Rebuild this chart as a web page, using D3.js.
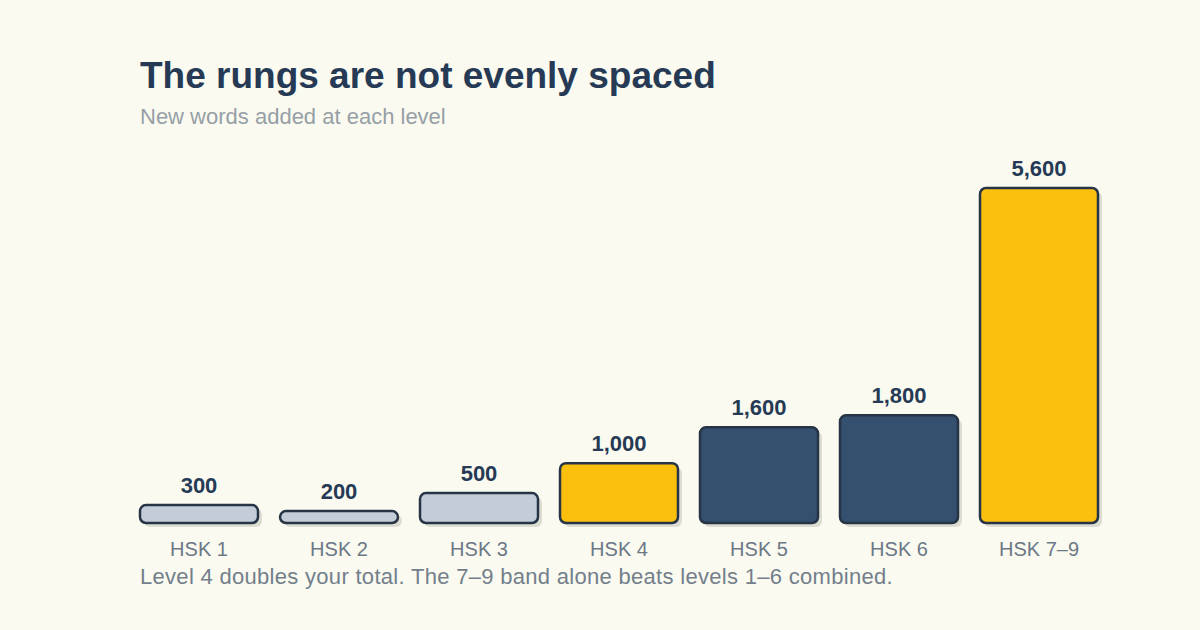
<!DOCTYPE html>
<html>
<head>
<meta charset="utf-8">
<script src="https://cdn.jsdelivr.net/npm/d3@7"></script>
<style>
  html, body { margin: 0; padding: 0; background: #fafaf0; }
  svg { display: block; font-family: "Liberation Sans", Arial, Helvetica, sans-serif; }
</style>
</head>
<body>
<div class="chart"></div>
<script>
// data
const levels = ['HSK 1', 'HSK 2', 'HSK 3', 'HSK 4', 'HSK 5', 'HSK 6', 'HSK 7–9'];
const newWords = [300, 200, 500, 1000, 1600, 1800, 5600];
const tier = ['low', 'low', 'low', 'key', 'high', 'high', 'key'];

const width = 1200, height = 630;
const margin = {top: 188, right: 102, bottom: 107, left: 140};

const svg = d3.select('.chart')
  .append('svg')
  .attr('width', width)
  .attr('height', height);

svg.append('rect')
  .attr('width', width)
  .attr('height', height)
  .attr('fill', '#fafaf0');

const fillFor = {low: '#c3ccd8', key: '#fbbf0e', high: '#354f6e'};

// bars 118 wide on a 140 step, first one flush with the title
const x = d3.scaleBand()
  .domain(levels)
  .range([margin.left, width - margin.right])
  .paddingInner(22 / 140)
  .paddingOuter(0);

const y = d3.scaleLinear()
  .domain([0, d3.max(newWords)])
  .range([height - margin.bottom, margin.top]);

// title
svg.append('text')
  .attr('x', 140).attr('y', 88)
  .text('The rungs are not evenly spaced')
  .style('font-size', '37px')
  .style('font-weight', 'bold')
  .style('fill', '#263a55');

svg.append('text')
  .attr('x', 140).attr('y', 124)
  .text('New words added at each level')
  .style('font-size', '22px')
  .style('fill', '#969fa6');

const bars = svg.selectAll('.bar')
  .data(levels)
  .enter()
  .append('g')
  .attr('class', 'bar');

// shadow
bars.append('rect')
  .attr('x', d => x(d) + 4)
  .attr('y', (d, i) => y(newWords[i]) + 4)
  .attr('width', x.bandwidth())
  .attr('height', (d, i) => y(0) - y(newWords[i]))
  .attr('rx', 6)
  .attr('fill', '#dcdcd3');

bars.append('rect')
  .attr('x', d => x(d))
  .attr('y', (d, i) => y(newWords[i]))
  .attr('width', x.bandwidth())
  .attr('height', (d, i) => y(0) - y(newWords[i]))
  .attr('rx', 6)
  .attr('fill', (d, i) => fillFor[tier[i]])
  .attr('stroke', '#263445')
  .attr('stroke-width', 2.5);

// value labels
bars.append('text')
  .attr('x', d => x(d) + x.bandwidth() / 2)
  .attr('y', (d, i) => y(newWords[i]) - 12)
  .attr('text-anchor', 'middle')
  .text((d, i) => d3.format(',')(newWords[i]))
  .style('font-size', '22px')
  .style('font-weight', 'bold')
  .style('fill', '#263a55');

// category labels
bars.append('text')
  .attr('x', d => x(d) + x.bandwidth() / 2)
  .attr('y', 556)
  .attr('text-anchor', 'middle')
  .text(d => d)
  .style('font-size', '20px')
  .style('fill', '#6c7886');

// footnote
svg.append('text')
  .attr('x', 140).attr('y', 584)
  .text('Level 4 doubles your total. The 7–9 band alone beats levels 1–6 combined.')
  .style('font-size', '22px')
  .style('letter-spacing', '0.3px')
  .style('fill', '#737f8b');
</script>
</body>
</html>
